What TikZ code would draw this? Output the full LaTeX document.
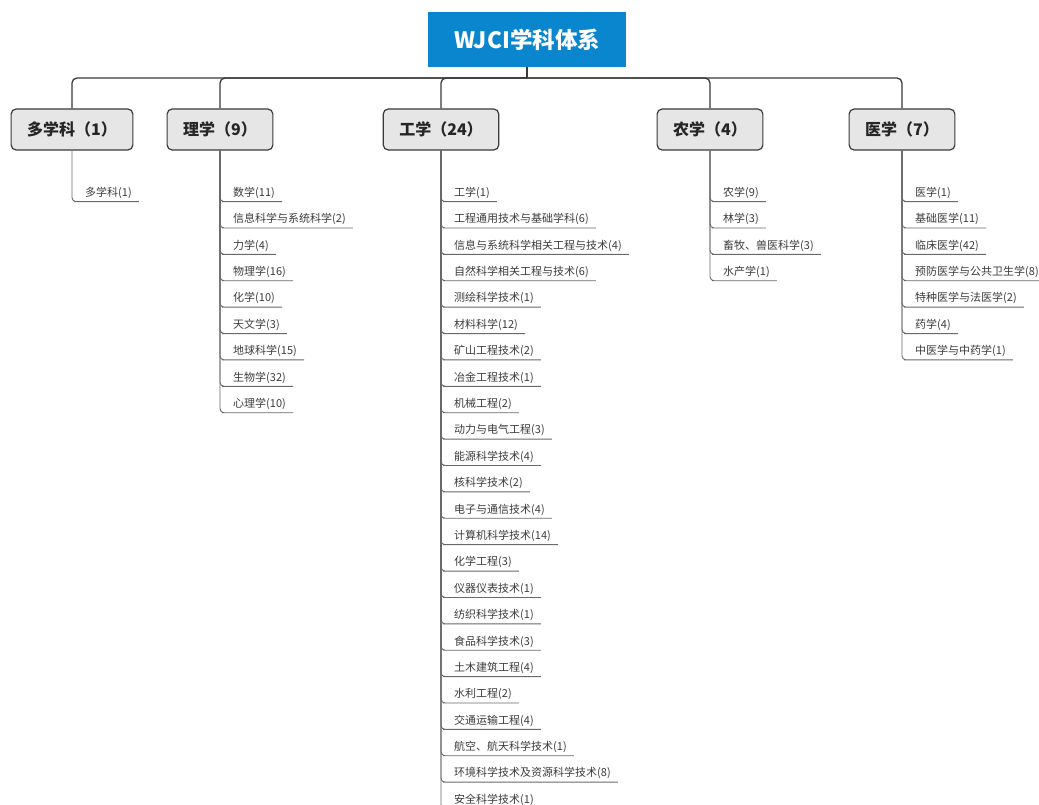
\documentclass[tikz,border=0pt]{standalone}
\usepackage{fontspec}
\setmainfont{Noto Sans CJK SC}
\usetikzlibrary{positioning, calc}
\definecolor{rootBlue}{RGB}{10, 134, 206}
\definecolor{branchGray}{RGB}{230, 230, 230}
\definecolor{lineDark}{RGB}{58, 58, 58}
\definecolor{leafText}{RGB}{60, 60, 60}
\definecolor{leafLine}{RGB}{105, 105, 105}
\tikzset{
    % Root Block Style
    rootBox/.style={
        rectangle,
        fill=rootBlue,
        text=white,
        minimum width=198pt,
        minimum height=55pt,
        font=\fontsize{22.5}{26}\selectfont\bfseries
    },
    % Branch Block Style
    branchBox/.style={
        rectangle,
        rounded corners=5pt,
        minimum height=41pt,
        inner xsep=16pt,
        fill=branchGray,
        draw=lineDark,
        line width=1.2pt,
        text=black!85,
        font=\fontsize{16}{19}\selectfont\bfseries
    },
    % Leaf Label Style
    leaf/.style={
        anchor=south west,
        inner xsep=7pt,
        inner ysep=2.5pt,
        text height=9pt,
        text depth=2.5pt,
        text=leafText,
        font=\fontsize{11}{13}\selectfont
    },
    % Line Styles
    trunk/.style={draw=lineDark, line width=1.3pt, rounded corners=5pt},
    twig/.style={draw=leafLine, line width=0.9pt, rounded corners=4pt}
}

\begin{document}
\begin{tikzpicture}[x=1pt, y=-1pt]

    % --- Canvas ---
    \fill [white] (0,0) rectangle (1039,805);
    \path [use as bounding box] (0,0) rectangle (1039,805);
    \clip (0,0) rectangle (1039,805);

    % --- ROOT ---
    \node (root) [rootBox] at (527,39.5) {WJCI学科体系};
    \coordinate (hub) at (527,78);

    % --- BRANCHES ---
    \node (multi) [branchBox] at (72,129.5) {多学科（1）};
    \node (sci) [branchBox] at (220,129.5) {理学（9）};
    \node (eng) [branchBox] at (441,129.5) {工学（24）};
    \node (agr) [branchBox] at (710,129.5) {农学（4）};
    \node (med) [branchBox] at (902,129.5) {医学（7）};

    % --- Trunk Lines ---
    \draw [trunk] (root.south) -- (hub);
    \foreach \b in {multi, sci, eng, agr, med}
        \draw [trunk] (hub) -| (\b.north);

    % --- LEAVES ---
    \foreach \t [count=\i] in {多学科(1)} {
        \node (multi\i) [leaf] at ($(multi.south)+(6,{51+26.39*(\i-1)})$) {\t};
        \draw [twig] (multi.south) |- (multi\i.south west) -- (multi\i.south east);
    }

    \foreach \t [count=\i] in {数学(11), 信息科学与系统科学(2), 力学(4), 物理学(16),
        化学(10), 天文学(3), 地球科学(15), 生物学(32), 心理学(10)} {
        \node (sci\i) [leaf] at ($(sci.south)+(6,{51+26.39*(\i-1)})$) {\t};
        \draw [twig] (sci.south) |- (sci\i.south west) -- (sci\i.south east);
    }

    \foreach \t [count=\i] in {工学(1), 工程通用技术与基础学科(6),
        信息与系统科学相关工程与技术(4), 自然科学相关工程与技术(6),
        测绘科学技术(1), 材料科学(12), 矿山工程技术(2), 冶金工程技术(1),
        机械工程(2), 动力与电气工程(3), 能源科学技术(4), 核科学技术(2),
        电子与通信技术(4), 计算机科学技术(14), 化学工程(3), 仪器仪表技术(1),
        纺织科学技术(1), 食品科学技术(3), 土木建筑工程(4), 水利工程(2),
        交通运输工程(4), 航空、航天科学技术(1), 环境科学技术及资源科学技术(8),
        安全科学技术(1)} {
        \node (eng\i) [leaf] at ($(eng.south)+(6,{51+26.39*(\i-1)})$) {\t};
        \draw [twig] (eng.south) |- (eng\i.south west) -- (eng\i.south east);
    }

    \foreach \t [count=\i] in {农学(9), 林学(3), 畜牧、兽医科学(3), 水产学(1)} {
        \node (agr\i) [leaf] at ($(agr.south)+(6,{51+26.39*(\i-1)})$) {\t};
        \draw [twig] (agr.south) |- (agr\i.south west) -- (agr\i.south east);
    }

    \foreach \t [count=\i] in {医学(1), 基础医学(11), 临床医学(42),
        预防医学与公共卫生学(8), 特种医学与法医学(2), 药学(4), 中医学与中药学(1)} {
        \node (med\i) [leaf] at ($(med.south)+(6,{51+26.39*(\i-1)})$) {\t};
        \draw [twig] (med.south) |- (med\i.south west) -- (med\i.south east);
    }

\end{tikzpicture}
\end{document}
